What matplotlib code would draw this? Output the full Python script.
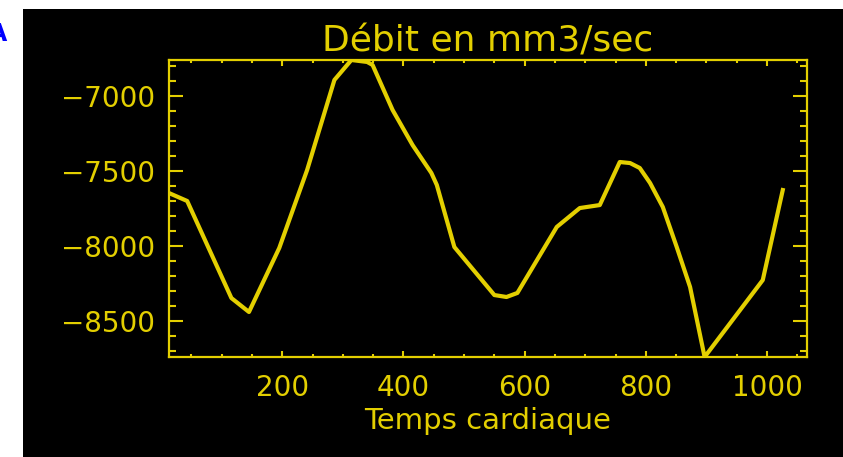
import matplotlib.pyplot as plt
from matplotlib.patches import Rectangle
from matplotlib.ticker import MultipleLocator

# temps cardiaque (ms) et debit (mm3/sec)
temps = [13, 43, 116, 145, 195, 241, 286, 314, 340, 349, 382, 415, 446, 455,
         484, 550, 570, 588, 653, 691, 724, 757, 774, 790, 807, 828, 851, 873,
         897, 993, 1026]
debit = [-7647, -7700, -8347, -8440, -8013, -7493, -6893, -6760, -6773, -6793,
         -7093, -7327, -7513, -7593, -8007, -8327, -8340, -8313, -7873, -7747,
         -7727, -7440, -7447, -7480, -7580, -7740, -8007, -8273, -8740, -8227,
         -7627]

jaune = '#e3cf00'
W, H = 843, 457

fig = plt.figure(figsize=(W / 100, H / 100), dpi=100, facecolor='white')
# fond noir (capture d'ecran IDL)
fig.patches.append(Rectangle((23 / W, 0), (W - 23) / W, (H - 9) / H,
                             transform=fig.transFigure, facecolor='black',
                             edgecolor='none', zorder=-10))
fig.text(7 / W, 1 - 34 / H, 'A', color='#0000ff', fontsize=17,
         fontweight='bold', ha='right', va='center')

ax = fig.add_axes([169 / W, 1 - 357 / H, (807 - 169) / W, (357 - 60) / H])
ax.set_facecolor('black')
ax.plot(temps, debit, color=jaune, lw=3)

ax.set_xlim(13, 1066)
ax.set_ylim(-8740, -6760)
ax.xaxis.set_major_locator(MultipleLocator(200))
ax.xaxis.set_minor_locator(MultipleLocator(50))
ax.yaxis.set_major_locator(MultipleLocator(500))
ax.yaxis.set_minor_locator(MultipleLocator(100))

for s in ax.spines.values():
    s.set_color(jaune)
    s.set_linewidth(1.6)

ax.tick_params(axis='both', which='both', direction='in', colors=jaune,
               top=True, right=True, width=1.5, labelsize=20)
ax.tick_params(axis='x', which='major', length=4.5, pad=12)
ax.tick_params(axis='x', which='minor', length=2.2)
ax.tick_params(axis='y', which='major', length=10, pad=10)
ax.tick_params(axis='y', which='minor', length=5)

ax.set_title('Débit en mm3/sec', color=jaune, fontsize=26, pad=6)
ax.set_xlabel('Temps cardiaque', color=jaune, fontsize=21, labelpad=4)

fig.savefig('out.png', dpi=100, facecolor='white')
